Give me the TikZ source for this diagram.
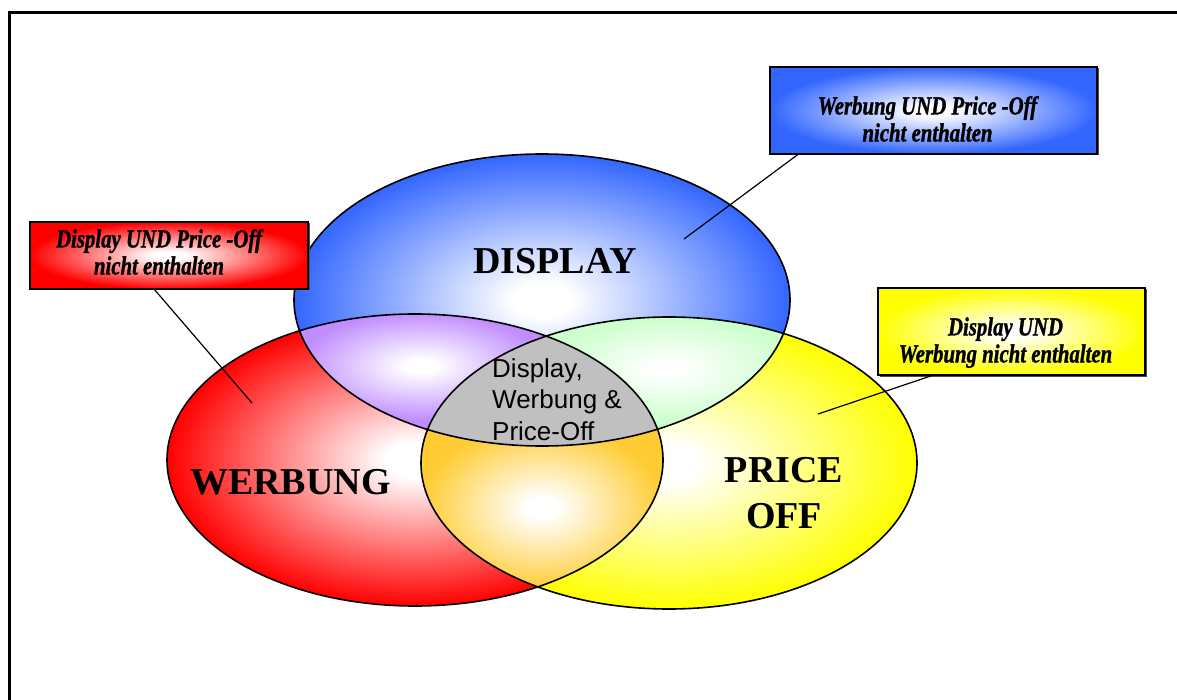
\documentclass[tikz,border=0pt]{standalone}
\usepackage{fontspec}
\setmainfont{Liberation Serif}
\setsansfont{Liberation Sans}
\newfontfamily\callfont[FakeStretch=0.8,FakeBold=1.2]{Liberation Serif}
\usetikzlibrary{shadows}

\definecolor{dispblue}{HTML}{3366FF}
\definecolor{werbred}{HTML}{FF0000}
\definecolor{priceyellow}{HTML}{FFFF00}
\definecolor{mixpurple}{HTML}{C08CFF}
\definecolor{mixgreen}{HTML}{CCFFCC}
\definecolor{mixorange}{HTML}{FFCC33}
\definecolor{allgray}{HTML}{C0C0C0}

% white centre, coloured rim
\newcommand\glowshading[2]{%
  \pgfdeclareradialshading{#1}{\pgfpoint{0bp}{0bp}}%
    {color(0bp)=(white); color(3bp)=(white); color(25bp)=(#2); color(50bp)=(#2)}}
\glowshading{blueglow}{dispblue}
\glowshading{redglow}{werbred}
\glowshading{yellowglow}{priceyellow}
\glowshading{purpleglow}{mixpurple}
\glowshading{greenglow}{mixgreen}
\glowshading{orangeglow}{mixorange}

% lowered text block, padded on the right
\newcommand\calltext[3]{\raisebox{#1}[\height][\depth]{\begin{tabular}{@{}c@{}}#3\end{tabular}\kern#2}}

\begin{document}
\begin{tikzpicture}[x=1pt,y=-1pt,
  ring/.style={draw=black,line width=1.6pt},
  callbox/.style={draw=black,line width=1.2pt,inner sep=0pt,shade,
    font=\callfont\bfseries\itshape\fontsize{26}{27}\selectfont,
    drop shadow={shadow xshift=1.5pt,shadow yshift=-1.5pt,fill=black!70,opacity=1}},
  biglabel/.style={font=\bfseries\fontsize{38}{46}\selectfont,inner sep=0pt},
  pointer/.style={line width=1.2pt}]

\def\rx{248pt}
\def\ry{146pt}

\useasboundingbox (0,0) rectangle (1177,700);

% Frame
\draw [line width=3pt] (1177,12.5) -- (9.5,12.5) -- (9.5,700);

% Circles
\coordinate (cdisp) at (542,300);
\coordinate (cwerb) at (415,460);
\coordinate (cprice) at (669,463);

\shade [shading=redglow] (cwerb) ellipse [x radius=\rx, y radius=\ry];
\shade [shading=yellowglow] (cprice) ellipse [x radius=\rx, y radius=\ry];
\shade [shading=blueglow] (cdisp) ellipse [x radius=\rx, y radius=\ry];

% Overlaps
\begin{scope}
  \clip (cdisp) ellipse [x radius=\rx, y radius=\ry];
  \clip (cwerb) ellipse [x radius=\rx, y radius=\ry];
  \fill [mixpurple] (150,150) rectangle (700,620);
  \shade [shading=purpleglow] (297,312) rectangle (545,420);
\end{scope}
\begin{scope}
  \clip (cdisp) ellipse [x radius=\rx, y radius=\ry];
  \clip (cprice) ellipse [x radius=\rx, y radius=\ry];
  \fill [mixgreen] (400,150) rectangle (950,620);
  \shade [shading=greenglow] (545,316) rectangle (792,422);
\end{scope}
\begin{scope}
  \clip (cwerb) ellipse [x radius=\rx, y radius=\ry];
  \clip (cprice) ellipse [x radius=\rx, y radius=\ry];
  \fill [mixorange] (400,300) rectangle (700,620);
  \shade [shading=orangeglow] (421,425) rectangle (663,590);
\end{scope}
\begin{scope}
  \clip (cdisp) ellipse [x radius=\rx, y radius=\ry];
  \clip (cwerb) ellipse [x radius=\rx, y radius=\ry];
  \clip (cprice) ellipse [x radius=\rx, y radius=\ry];
  \fill [allgray] (400,300) rectangle (700,500);
\end{scope}

% Outlines
\draw [ring] (cwerb) ellipse [x radius=\rx, y radius=\ry];
\draw [ring] (cprice) ellipse [x radius=\rx, y radius=\ry];
\draw [ring] (cdisp) ellipse [x radius=\rx, y radius=\ry];

% Labels
\node [biglabel, anchor=base] (displabel) at (555,274) {DISPLAY};
\node [biglabel, anchor=base] (werblabel) at (290.5,494) {WERBUNG};
\node [biglabel, align=center, anchor=north] (pricelabel) at (784,457) {PRICE\\OFF};
\node [font=\sffamily\fontsize{26}{31.5}\selectfont, align=left, anchor=north west,
  inner sep=0pt] (alltext) at (492,358.4) {Display,\\Werbung \&\\Price-Off};

% Callouts
\coordinate (dispend) at (684,239);
\coordinate (werbend) at (252,403);
\coordinate (priceend) at (818,414);

\node [callbox, shading=blueglow, minimum width=327pt, minimum height=87pt]
  (dispbox) at (933.5,110.5) {\calltext{-12pt}{12pt}{Werbung UND Price -Off\\nicht enthalten}};
\node [callbox, shading=redglow, minimum width=278pt, minimum height=67pt]
  (werbbox) at (169,255.5) {\calltext{0pt}{20pt}{Display UND Price -Off\\nicht enthalten}};
\node [callbox, shading=yellowglow, minimum width=267pt, minimum height=87pt]
  (pricebox) at (1011.5,331.5) {\calltext{-12pt}{12pt}{Display UND\\Werbung nicht enthalten}};

\draw [pointer] (dispbox.198.5) -- (dispend);
\draw [pointer] (werbbox.247) -- (werbend);
\draw [pointer] (pricebox.209.5) -- (priceend);

\end{tikzpicture}
\end{document}
